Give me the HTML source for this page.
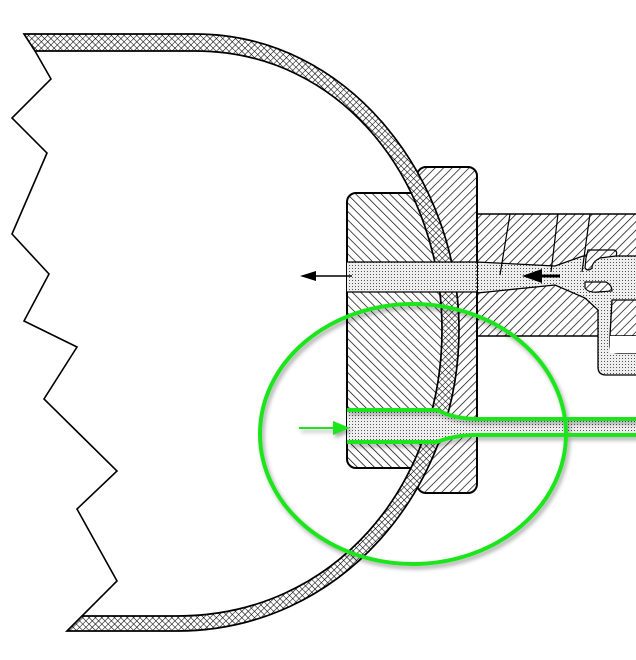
<!DOCTYPE html>
<html><head><meta charset="utf-8"><style>html,body{margin:0;padding:0;background:#fff}svg{display:block}</style></head>
<body>
<svg width="636" height="660" viewBox="0 0 636 660" xmlns="http://www.w3.org/2000/svg">
<defs>
<pattern id="hb" width="6" height="6" patternUnits="userSpaceOnUse" patternTransform="rotate(45)"><rect width="7" height="7" fill="#fff"/><line x1="0" y1="0" x2="0" y2="7" stroke="#000" stroke-width="1.4"/></pattern>
<pattern id="hf" width="6" height="6" patternUnits="userSpaceOnUse" patternTransform="rotate(-45)"><rect width="7" height="7" fill="#fff"/><line x1="0" y1="0" x2="0" y2="7" stroke="#000" stroke-width="1.4"/></pattern>
<pattern id="cx" width="4.5" height="4.5" patternUnits="userSpaceOnUse" patternTransform="rotate(45)"><rect width="5" height="5" fill="#fff"/><line x1="0" y1="0" x2="0" y2="5" stroke="#000" stroke-width="1.1"/><line x1="0" y1="0" x2="5" y2="0" stroke="#000" stroke-width="1.1"/></pattern>
<pattern id="st" width="3" height="3" patternUnits="userSpaceOnUse"><rect width="3" height="3" fill="#eee"/><rect x="1" y="1" width="1" height="1" fill="#555"/></pattern>
<filter id="sh" x="-10%" y="-10%" width="120%" height="120%"><feDropShadow dx="2" dy="3" stdDeviation="2" flood-color="#000" flood-opacity="0.35"/></filter>
<clipPath id="lc"><path d="M0,0 L195,0 L195,34 C350,34 450,180 450,330 C450,490 340,631 177,631 L0,660 Z"/></clipPath>
</defs>

<rect x="477" y="214" width="170" height="122" fill="url(#hb)" stroke="#000" stroke-width="1.5"/>
<path d="M477,262 L555,266 L583,256 L640,256 L640,300 L612,300 L610,336 L610,345 Q610,353 618,353 L640,353 L640,375 L606,375 Q598,375 598,367 L598,310 L585,298 L555,285 L477,293 Z" fill="url(#st)" stroke="#000" stroke-width="1.3"/>
<rect x="610" y="336" width="30" height="17" fill="#fff"/>
<path d="M588,250 L614,250 Q618,251 616,256 L600,258 Q592,262 592,268 Q588,272 585,268 L586,258 Z" fill="url(#hb)" stroke="#000" stroke-width="1.2"/>
<path d="M585,282 L606,282 Q612,285 612,291 L598,292 Q588,293 585,288 Z" fill="url(#hb)" stroke="#000" stroke-width="1.2"/>
<path d="M510,214 L500,275" stroke="#000" stroke-width="1.2" fill="none"/>
<path d="M558,214 L551,272" stroke="#000" stroke-width="1.2" fill="none"/>
<path d="M590,214 L582,272" stroke="#000" stroke-width="1.2" fill="none"/>
<line x1="560" y1="276" x2="535" y2="276" stroke="#000" stroke-width="3"/>
<path d="M522,276 L542,269 L542,283 Z" fill="#000"/>

<rect x="417" y="167" width="60" height="326" rx="9" fill="url(#hb)" stroke="#000" stroke-width="2"/>
<g clip-path="url(#lc)">
<rect x="347" y="193" width="120" height="275" rx="9" fill="url(#hf)" stroke="#000" stroke-width="2"/>
</g>

<path fill-rule="evenodd" d="M24,34 L195,34 C350,34 459,180 459,330 C459,490 340,631 177,631 L67,631 L82,616 L177,616 C335,616 442,485 442,330 C442,185 345,51 195,51 L35,51 Z" fill="url(#cx)" stroke="#000" stroke-width="1.7"/>
<polyline points="35,51 51,79 12,118 47,153 12,234 49,274 24,321 77,347 44,399 117,471 77,509 117,581 82,616" fill="none" stroke="#000" stroke-width="1.6"/>

<rect x="347" y="262" width="130" height="30" fill="url(#st)"/>
<line x1="347" y1="262" x2="477" y2="262" stroke="#000" stroke-width="1.3"/>
<line x1="347" y1="292" x2="477" y2="292" stroke="#000" stroke-width="1.3"/>
<line x1="477" y1="262" x2="477" y2="292" stroke="#000" stroke-width="1.2" stroke-dasharray="2,2"/>
<line x1="352" y1="276" x2="312" y2="276" stroke="#000" stroke-width="1.5"/>
<path d="M300,276 L316,271 L316,281 Z" fill="#000"/>

<path d="M347,410 L437,410 Q455,419 477,419 L640,419 L640,435 L477,435 Q455,435 437,442 L347,442 Z" fill="url(#st)"/>
<g filter="url(#sh)">
<path d="M347,410 L437,410 Q455,419 477,419 L640,419" fill="none" stroke="#1de51d" stroke-width="4"/>
<path d="M347,442 L437,442 Q455,435 477,435 L640,435" fill="none" stroke="#1de51d" stroke-width="4"/>
<ellipse cx="413" cy="434" rx="153" ry="130" fill="none" stroke="#1de51d" stroke-width="4"/>
<line x1="299" y1="428" x2="336" y2="428" stroke="#1de51d" stroke-width="2"/>
<path d="M350,428 L333,421 L333,435 Z" fill="#1de51d"/>
</g>
</svg>
</body></html>
